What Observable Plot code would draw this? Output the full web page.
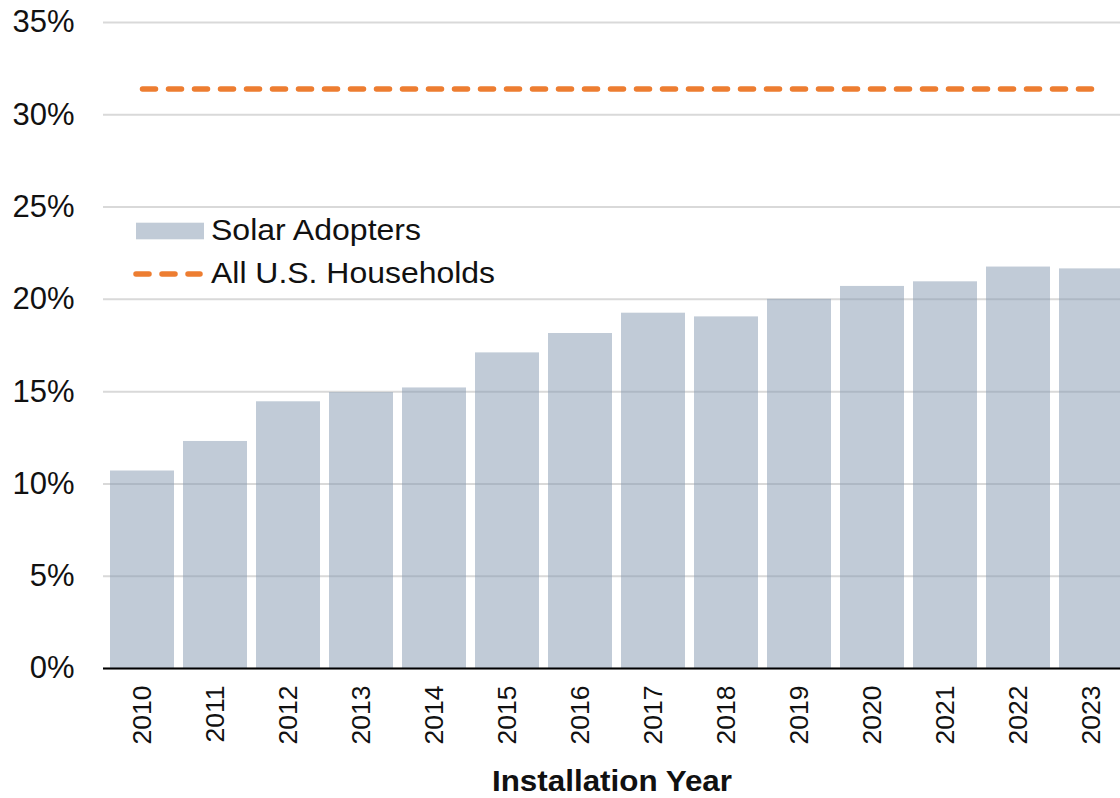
<!DOCTYPE html>
<html><head><meta charset="utf-8">
<script src="https://cdn.jsdelivr.net/npm/d3@7"></script>
<script src="https://cdn.jsdelivr.net/npm/@observablehq/plot@0.6"></script>
<style>
html,body{margin:0;padding:0;background:#fff;overflow:hidden;width:1120px;height:798px}
#wrap{position:relative;width:1120px;height:798px;overflow:hidden}
#legend{position:absolute;left:0;top:0;pointer-events:none}
</style></head><body>
<div id="wrap"><div id="chart"></div><svg id="legend" width="1120" height="798"></svg></div>
<script>
const years = [2010, 2011, 2012, 2013, 2014, 2015, 2016, 2017, 2018, 2019, 2020, 2021, 2022, 2023];
const solarAdopters = [10.7, 12.3, 14.45, 14.95, 15.2, 17.1, 18.15, 19.25, 19.05, 20.0, 20.7, 20.95, 21.75, 21.65];
const allHouseholds = 31.4;
const yTicks = [0, 5, 10, 15, 20, 25, 30, 35];
const seriesNames = ["Solar Adopters", "All U.S. Households"];
const xTitle = "Installation Year";

const FONT = '"Liberation Sans", Arial, Helvetica, sans-serif';
const barData = years.map((y, i) => ({year: String(y), value: solarAdopters[i]}));
const lineData = years.map(y => ({year: String(y), value: allHouseholds}));

const chart = Plot.plot({
  width: 1120, height: 798,
  marginLeft: 103, marginRight: 0, marginTop: 22, marginBottom: 130,
  style: {fontFamily: FONT, color: "#111", background: "#fff"},
  x: {type: "band", domain: years.map(String), range: [98.7, 1134.2], padding: 0.127},
  y: {domain: [0, 35], range: [668, 22]},
  marks: [
    Plot.gridY(yTicks, {stroke: "#d9d9d9", strokeOpacity: 1, strokeWidth: 2}),
    Plot.barY(barData, {x: "year", y: "value", fill: "#8497b0", fillOpacity: 0.5}),
    Plot.ruleY([0], {stroke: "#000", strokeWidth: 2}),
    Plot.lineY(lineData, {x: "year", y: "value", stroke: "#ed7d31", strokeWidth: 5.5,
      strokeDasharray: "13,13", strokeLinecap: "round"}),
    Plot.axisY(yTicks, {tickFormat: d => d + "%", tickSize: 0, tickPadding: 29, fontSize: 31, label: null}),
    Plot.axisX({tickRotate: -90, tickSize: 0, tickPadding: 17, fontSize: 26.5, label: null}),
    Plot.text([xTitle], {frameAnchor: "bottom", dy: 113, fontSize: 30, fontWeight: "bold", lineAnchor: "middle", fill: "#111", className: "xtitle"})
  ]
});
document.getElementById("chart").appendChild(chart);
// widen the title glyphs to match the reference's proportions
d3.select(chart).selectAll(".xtitle text").attr("textLength", 240).attr("lengthAdjust", "spacingAndGlyphs");

// Legend
const lg = d3.select("#legend");
lg.append("rect").attr("x", 136).attr("y", 222.7).attr("width", 68).attr("height", 16.6)
  .attr("fill", "#8497b0").attr("fill-opacity", 0.5);
lg.append("line").attr("x1", 136).attr("x2", 200).attr("y1", 274).attr("y2", 274)
  .attr("stroke", "#ed7d31").attr("stroke-width", 5.5).attr("stroke-dasharray", "13,13")
  .attr("stroke-linecap", "round");
const legendWidths = [210, 284];
lg.selectAll("text.l").data(seriesNames).join("text")
  .attr("x", 211).attr("y", (d, i) => i === 0 ? 240 : 283)
  .attr("font-family", FONT).attr("font-size", 29.5).attr("fill", "#111")
  .attr("textLength", (d, i) => legendWidths[i]).attr("lengthAdjust", "spacingAndGlyphs")
  .text(d => d);
</script>
</body></html>
